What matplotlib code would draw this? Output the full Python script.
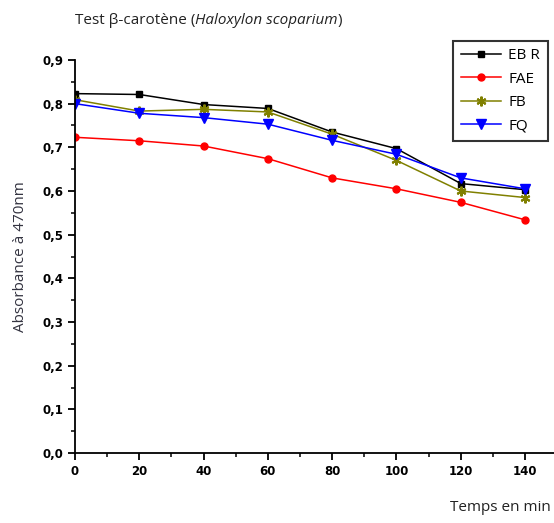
import matplotlib
matplotlib.use("Agg")
import matplotlib.pyplot as plt
from matplotlib.ticker import MultipleLocator, FuncFormatter

# temps (min)
temps = [0, 20, 40, 60, 80, 100, 120, 140]

ebr = [0.823, 0.821, 0.798, 0.789, 0.735, 0.697, 0.617, 0.603]
fae = [0.723, 0.715, 0.703, 0.674, 0.630, 0.605, 0.574, 0.534]
fb = [0.809, 0.783, 0.787, 0.781, 0.730, 0.670, 0.600, 0.585]
fq = [0.800, 0.778, 0.768, 0.753, 0.716, 0.684, 0.630, 0.605]

names = ['EB R', 'FAE', 'FB', 'FQ']
colors = ['black', '#ff0000', '#808000', '#0000ff']
markers = ['s', 'o', (6, 2, 0), 'v']
msizes = [5, 5, 7, 7]

fig = plt.figure(figsize=(5.54, 5.23), dpi=100)
ax = fig.add_axes([0.1354, 0.1338, 0.8646, 0.7515])

for vals, name, c, m, ms in zip([ebr, fae, fb, fq], names, colors, markers, msizes):
    ax.plot(temps, vals, color=c, marker=m, markersize=ms, lw=1.1,
            markeredgewidth=1.5 if m == (6, 2, 0) else 1, label=name)

ax.set_xlim(0, 149)
ax.set_ylim(0, 0.9)
ax.spines['top'].set_visible(False)
ax.spines['right'].set_visible(False)
ax.spines['left'].set_linewidth(1.3)
ax.spines['bottom'].set_linewidth(1.3)

ax.xaxis.set_major_locator(MultipleLocator(20))
ax.xaxis.set_minor_locator(MultipleLocator(10))
ax.yaxis.set_major_locator(MultipleLocator(0.1))
ax.yaxis.set_minor_locator(MultipleLocator(0.05))
ax.yaxis.set_major_formatter(FuncFormatter(lambda v, p: ('%.1f' % v).replace('.', ',')))
ax.tick_params(which='major', direction='out', length=5, width=1.3, labelsize=8.5)
ax.tick_params(which='minor', direction='out', length=3, width=1.1)
for lab in ax.get_xticklabels() + ax.get_yticklabels():
    lab.set_fontweight('heavy')

ax.set_ylabel('Absorbance à 470nm', fontsize=11, family='Open Sans', color='#333340', labelpad=10)
fig.text(0.995, 0.022, 'Temps en min', fontsize=11, family='Open Sans', color='#222222', ha='right')

# titre avec le nom latin en italique
t1 = fig.text(0.135, 0.955, 'Test β-carotène (', fontsize=11, family='Open Sans', color='#222222')
t2 = ax.annotate('Haloxylon scoparium', xy=(1, 0), xycoords=t1, fontsize=11, family='Open Sans',
                 style='italic', color='#222222', va='bottom')
ax.annotate(')', xy=(1, 0), xycoords=t2, fontsize=11, family='Open Sans', color='#222222', va='bottom')

leg = fig.legend(loc='upper left', bbox_to_anchor=(0.818, 0.922), fontsize=11, frameon=True,
                 fancybox=False, edgecolor='black', handlelength=2.6, borderpad=0.5,
                 labelspacing=0.55, handletextpad=0.5, borderaxespad=0)
leg.get_frame().set_linewidth(1.5)
for t in leg.get_texts():
    t.set_family('Open Sans')

fig.savefig('out.png', dpi=100)
